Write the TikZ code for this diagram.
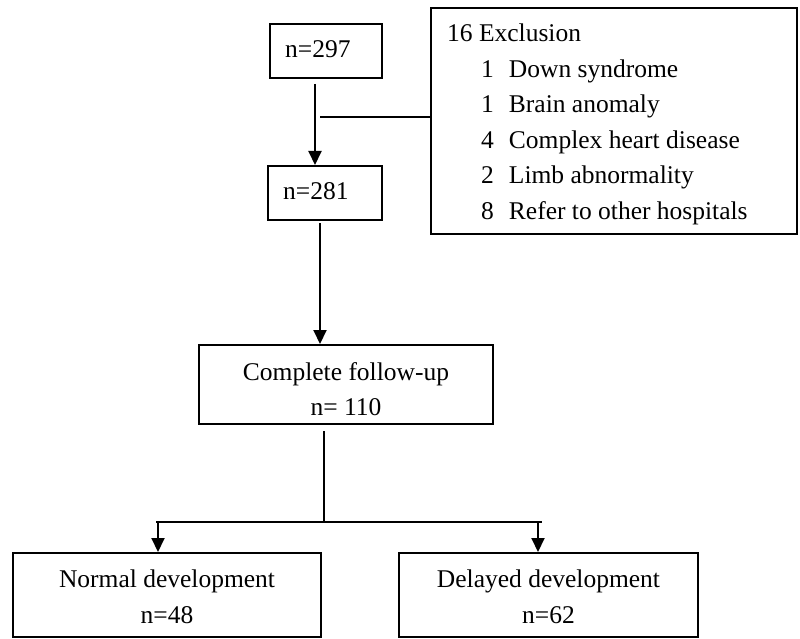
\documentclass[tikz,border=0pt]{standalone}
\usepackage{fontspec}
\setmainfont{Liberation Serif}
\usetikzlibrary{arrows.meta,calc}
\newcommand\excltext{\begin{tabular}{@{\hspace{34bp}}l@{\hspace{15bp}}l@{}}\multicolumn{2}{@{}l@{}}{16 Exclusion}\\1&Down syndrome\\1&Brain anomaly\\4&Complex heart disease\\2&Limb abnormality\\8&Refer to other hospitals\end{tabular}}
\begin{document}
\begin{tikzpicture}[x=1bp,y=-1bp,
  box/.style={draw, rectangle, inner sep=0pt, line width=2bp},
  txt/.style={font=\fontsize{25.5bp}{35.5bp}\selectfont, inner sep=0pt, align=center},
  conn/.style={line width=2bp},
  arr/.style={-{Triangle[width=13bp,length=14bp]}, line width=2bp}]
\fill[white] (0,0) rectangle (800,639);
\useasboundingbox (0,0) rectangle (800,639);

\node[box, minimum width=112bp, minimum height=54bp,
  label={[txt, anchor=west, xshift=16bp, yshift=1.5bp]west:n=297}] (a) at (326,51) {};
\node[box, minimum width=114bp, minimum height=54bp,
  label={[txt, anchor=west, xshift=16bp, yshift=1.5bp]west:n=281}] (b) at (325,193) {};
\node[box, minimum width=366bp, minimum height=226bp,
  label={[txt, anchor=north west, xshift=17bp, yshift=-9.8bp]north west:\excltext}] (e) at (614,121) {};
\node[box, minimum width=294bp, minimum height=79bp,
  label={[txt, anchor=center, yshift=-4.8bp]center:Complete follow-up\\n= 110}] (c) at (346,384.5) {};
\node[box, minimum width=308bp, minimum height=84bp,
  label={[txt, anchor=center, yshift=-2bp]center:Normal development\\n=48}] (n) at (167,595) {};
\node[box, minimum width=299bp, minimum height=84bp,
  label={[txt, anchor=center, yshift=-2bp]center:Delayed development\\n=62}] (d) at (548.5,595) {};

% n=297 -> n=281
\coordinate (as) at ($(a.south)+(-11,5)$);
\draw[arr] (as) -- (as |- b.north);
% exclusion branch
\coordinate (j) at (320,117);
\draw[conn] (j) -- (j -| e.west);
% n=281 -> complete follow-up
\coordinate (bs) at ($(b.south)+(-5,2)$);
\draw[arr] (bs) -- (bs |- c.north);
% split
\coordinate (split) at (324,522);
\coordinate (ln) at (158,522);
\coordinate (rn) at (538,522);
\draw[conn] ($(split |- c.south)+(0,6)$) -- (split);
\draw[conn] ($(ln)+(-2,0)$) -- ($(rn)+(4,0)$);
\draw[arr] (ln) -- (ln |- n.north);
\draw[arr] (rn) -- (rn |- d.north);
\end{tikzpicture}
\end{document}
